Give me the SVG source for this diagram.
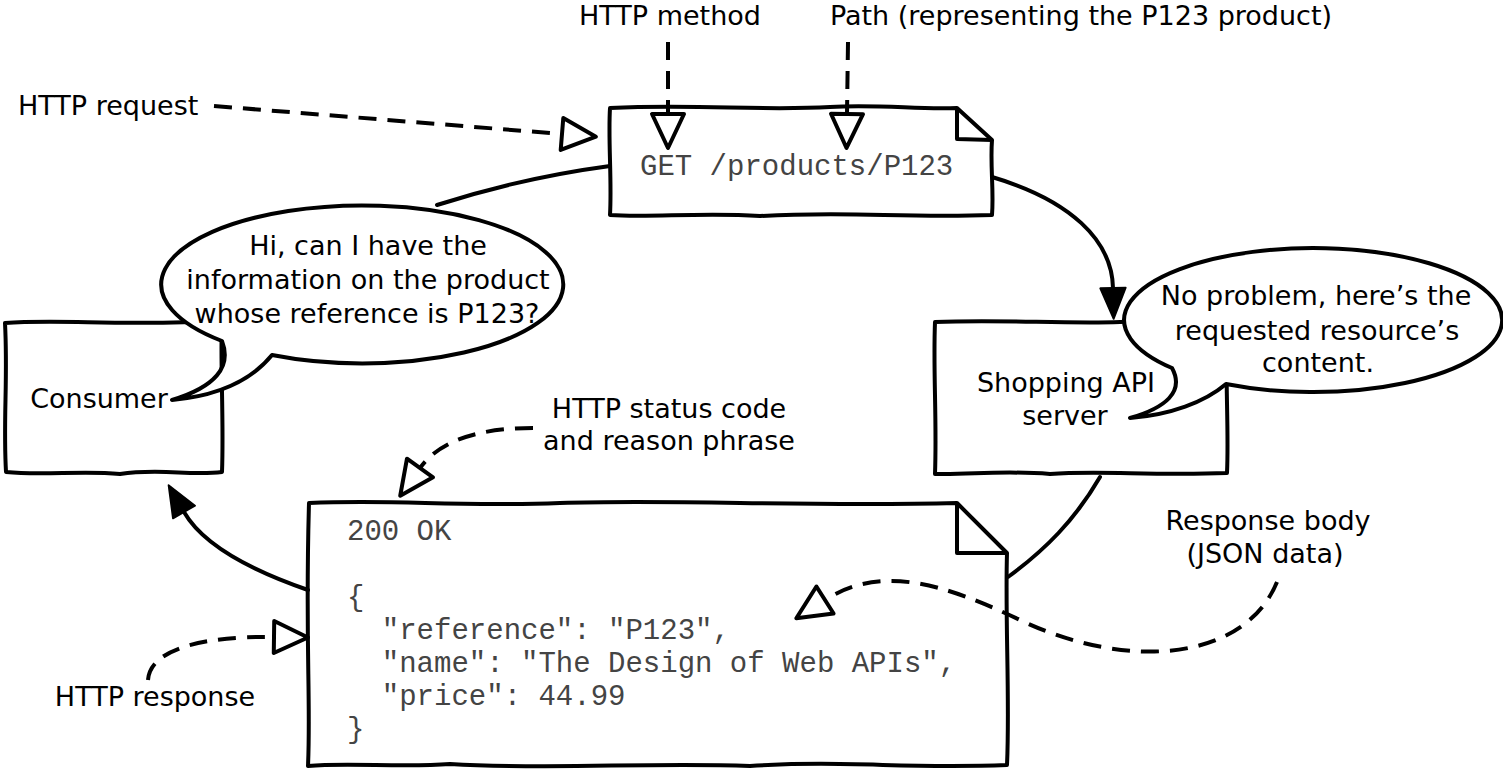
<svg xmlns="http://www.w3.org/2000/svg" width="1503" height="772" viewBox="0 0 1503 772">
<style>
.shape{fill:#fff;stroke:#000;stroke-width:4;stroke-linejoin:round}
.fold{fill:none;stroke:#000;stroke-width:4;stroke-linejoin:round}
.lbl{font-family:"DejaVu Sans",sans-serif;font-size:27px;fill:#000}
.mid{text-anchor:middle}
.code{font-family:"Liberation Mono",monospace;font-size:29px;fill:#444}
.flow{fill:none;stroke:#000;stroke-width:4;stroke-linecap:round}
.note{fill:none;stroke:#000;stroke-width:4;stroke-dasharray:18 11}
</style>
<defs>
<marker id="solidHead" markerUnits="userSpaceOnUse" markerWidth="40" markerHeight="40" refX="0" refY="0" viewBox="-4 -20 44 40" orient="auto" overflow="visible">
<path d="M0,-14 L34,0 L0,14 Z" fill="#000" stroke="#000" stroke-width="2" stroke-linejoin="round"/>
</marker>
<marker id="hollowHead" markerUnits="userSpaceOnUse" markerWidth="44" markerHeight="44" refX="0" refY="0" viewBox="-4 -22 44 44" orient="auto" overflow="visible">
<path d="M0,-16 L34,0 L0,16 Z" fill="#fff" stroke="#000" stroke-width="4" stroke-linejoin="round"/>
</marker>
</defs>
<rect width="1503" height="772" fill="#fff"/>

<g id="consumer">
<path class="shape" d="M5,323 C60,319 120,326 222,321 C220,360 224,420 222,472 C190,476 160,468 120,474 C80,470 45,476 6,472 C3,420 8,380 5,323 Z"/>
<text class="lbl mid" x="99" y="408">Consumer</text>
</g>

<g id="consumer-bubble">
<path class="shape" d="M272,355 A201,79 0 1 0 222,341 C232,367 215,387 172,400 C215,396 250,382 272,355 Z"/>
<text class="lbl mid" x="368" y="255">Hi, can I have the</text>
<text class="lbl mid" x="368" y="289">information on the product</text>
<text class="lbl mid" x="367" y="323">whose reference is P123?</text>
</g>

<g id="request">
<path class="shape" d="M610,108 C700,104 760,111 830,107 C880,104 920,110 957,108 L992,140 C990,165 994,190 992,215 C900,218 850,211 760,216 C700,212 650,218 610,215 C612,180 608,140 610,108 Z"/>
<path class="fold" d="M957,108 L957,139 L992,140"/>
<text class="code" x="640" y="175">GET /products/P123</text>
</g>

<g id="server">
<path class="shape" d="M935,322 C1000,319 1060,324 1120,322 C1170,320 1200,323 1227,322 C1225,380 1229,430 1227,473 C1150,476 1100,470 1050,474 C1000,470 970,475 935,474 C937,420 933,370 935,322 Z"/>
<text class="lbl mid" x="1066" y="392">Shopping API</text>
<text class="lbl mid" x="1065" y="425">server</text>
</g>

<g id="server-bubble">
<path class="shape" d="M1226,384 A189,72 0 1 0 1172,368 C1185,392 1165,408 1130,418 C1170,415 1205,402 1226,384 Z"/>
<text class="lbl mid" x="1316" y="305">No problem, here’s the</text>
<text class="lbl mid" x="1317" y="340">requested resource’s</text>
<text class="lbl mid" x="1318" y="372">content.</text>
</g>

<g id="response">
<path class="shape" d="M309,503 C400,499 450,507 560,503 C680,499 800,507 957,503 L1007,553 C1005,620 1010,700 1007,765 C900,769 850,760 750,766 C650,762 550,770 450,764 C400,768 350,762 308,766 C311,700 305,640 309,503 Z"/>
<path class="fold" d="M957,503 L957,553 L1007,553"/>
<text class="code" x="347" y="540">200 OK</text>
<text class="code" x="347" y="606">{</text>
<text class="code" x="347" y="639" xml:space="preserve">  "reference": "P123",</text>
<text class="code" x="347" y="672" xml:space="preserve">  "name": "The Design of Web APIs",</text>
<text class="code" x="347" y="705" xml:space="preserve">  "price": 44.99</text>
<text class="code" x="347" y="738">}</text>
</g>

<g id="labels">
<text class="lbl mid" x="670" y="25">HTTP method</text>
<text class="lbl mid" x="1081" y="25">Path (representing the P123 product)</text>
<text class="lbl" x="18" y="115">HTTP request</text>
<text class="lbl mid" x="669" y="418">HTTP status code</text>
<text class="lbl mid" x="669" y="450">and reason phrase</text>
<text class="lbl mid" x="155" y="706">HTTP response</text>
<text class="lbl mid" x="1268" y="530">Response body</text>
<text class="lbl mid" x="1265" y="563">(JSON data)</text>
</g>

<g id="connectors">
<path class="flow" d="M437,205 C490,188 550,174 610,166"/>
<path class="flow" d="M992,177 C1070,200 1112,240 1113,288" marker-end="url(#solidHead)"/>
<path class="flow" d="M1100,477 C1075,520 1045,550 1008,577"/>
<path class="flow" d="M308,590 C250,570 203,545 184,512" marker-end="url(#solidHead)"/>
<path class="note" d="M214,106 L562,134" marker-end="url(#hollowHead)"/>
<path class="note" d="M668,42 L668,114" marker-end="url(#hollowHead)"/>
<path class="note" d="M848,42 L847,114" marker-end="url(#hollowHead)"/>
<path class="note" d="M533,428 C480,428 440,440 420,468" marker-end="url(#hollowHead)"/>
<path class="note" d="M148,680 C150,650 200,636 274,637" marker-end="url(#hollowHead)"/>
<path class="note" d="M1277,582 C1245,660 1130,672 1020,620 C940,582 880,565 825,600" marker-end="url(#hollowHead)"/>
</g>
</svg>
